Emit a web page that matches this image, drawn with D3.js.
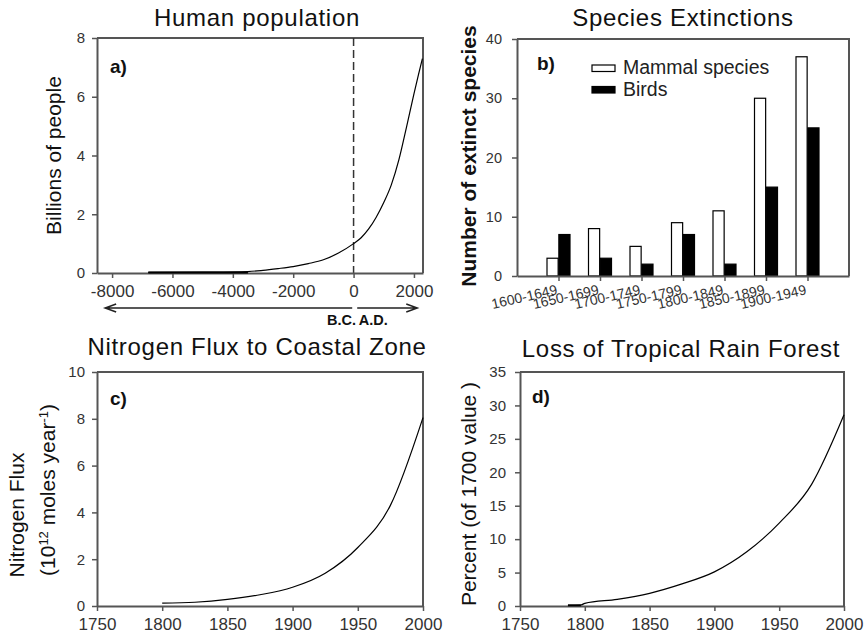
<!DOCTYPE html>
<html>
<head>
<meta charset="utf-8">
<script src="https://cdn.jsdelivr.net/npm/d3@7"></script>
<style>
body { margin: 0; background: #fff; }
text { font-family: "Liberation Sans", Arial, sans-serif; fill: #111; }
.tick text { fill: #333; }
</style>
</head>
<body>
<script>
// a) human population (billions)
var popYears = [-6800, -5000, -3500, -3000, -2500, -2000, -1500, -1000, -500, 0, 250, 500, 750, 1000, 1250, 1500, 1750, 2000, 2150, 2280];
var popValues = [0.02, 0.03, 0.05, 0.09, 0.15, 0.22, 0.32, 0.45, 0.68, 1.0, 1.2, 1.5, 1.9, 2.4, 3.0, 3.85, 4.95, 6.1, 6.75, 7.3];
var popXTicks = [-8000, -6000, -4000, -2000, 0, 2000];
var popYTicks = [0, 2, 4, 6, 8];

// b) species extinctions per period
var periods = ["1600-1649", "1650-1699", "1700-1749", "1750-1799", "1800-1849", "1850-1899", "1900-1949"];
var mammals = [3, 8, 5, 9, 11, 30, 37];
var birds = [7, 3, 2, 7, 2, 15, 25];
var extYTicks = [0, 10, 20, 30, 40];

// c) nitrogen flux
var nYears = [1800, 1825, 1850, 1875, 1900, 1925, 1950, 1975, 2000];
var nValues = [0.12, 0.16, 0.28, 0.48, 0.8, 1.4, 2.5, 4.3, 8.05];
var nYTicks = [0, 2, 4, 6, 8, 10];

// d) tropical rain forest loss
var fYears = [1787, 1797, 1800, 1825, 1850, 1875, 1900, 1925, 1950, 1975, 2000];
var fValues = [0.1, 0.15, 0.4, 1.0, 1.9, 3.3, 5.1, 8.1, 12.4, 18.2, 28.6];
var fYTicks = [0, 5, 10, 15, 20, 25, 30, 35];
var yearTicks = [1750, 1800, 1850, 1900, 1950, 2000];

var svg = d3.select("body").append("svg")
    .attr("width", 868)
    .attr("height", 638);

var frameColor = "#555";

function styleAxis(sel, fontSize) {
    sel.select(".domain").attr("stroke", frameColor).attr("stroke-width", 2);
    sel.selectAll(".tick line").attr("stroke", frameColor).attr("stroke-width", 1.5);
    sel.selectAll(".tick text").style("font-size", fontSize + "px")
        .style("font-family", "'Liberation Sans', Arial, sans-serif");
}

function panel(left, top, w, h) {
    var g = svg.append("g").attr("transform", "translate(" + left + "," + top + ")");
    // top and right sides of the box
    g.append("path")
        .attr("d", "M0,0H" + w + "V" + h)
        .attr("fill", "none")
        .attr("stroke", frameColor)
        .attr("stroke-width", 2);
    return g;
}

function addTitle(g, x, y, txt) {
    g.append("text")
        .attr("x", x).attr("y", y)
        .attr("text-anchor", "middle")
        .style("font-size", "24px")
        .style("letter-spacing", "0.7px")
        .text(txt);
}

function addTag(g, x, y, txt) {
    g.append("text")
        .attr("x", x).attr("y", y)
        .style("font-size", "19px")
        .style("font-weight", "bold")
        .text(txt);
}

function addYLabel(g, x, y, txt, size, bold) {
    return g.append("text")
        .attr("transform", "translate(" + x + "," + y + ") rotate(-90)")
        .attr("text-anchor", "middle")
        .style("font-size", size + "px")
        .style("font-weight", bold ? "bold" : "normal")
        .text(txt);
}

//---------------- a) Human population
var wA = 326, hA = 235;
var gA = panel(97, 38, wA, hA);
var xA = d3.scaleLinear().domain([-8500, 2300]).range([0, wA]);
var yA = d3.scaleLinear().domain([0, 8]).range([hA, 0]);

gA.append("line")
    .attr("x1", xA(0)).attr("x2", xA(0))
    .attr("y1", 0).attr("y2", hA)
    .attr("stroke", "#333")
    .attr("stroke-width", 1.5)
    .attr("stroke-dasharray", "8,4");

gA.append("g")
    .attr("transform", "translate(0," + hA + ")")
    .call(d3.axisBottom(xA).tickValues(popXTicks).tickSize(5).tickSizeOuter(0).tickPadding(7).tickFormat(d => String(d)))
    .call(s => styleAxis(s, 17));
gA.append("g")
    .call(d3.axisLeft(yA).tickValues(popYTicks).tickSize(5).tickSizeOuter(0).tickPadding(7))
    .call(s => styleAxis(s, 15));

var popLine = d3.line()
    .x((d, i) => xA(popYears[i]))
    .y(d => yA(d))
    .curve(d3.curveMonotoneX);
gA.append("path")
    .datum(popValues)
    .attr("d", popLine)
    .attr("fill", "none")
    .attr("stroke", "#000")
    .attr("stroke-width", 1.2);
// thicker flat stretch at the start
gA.append("line")
    .attr("x1", xA(popYears[0])).attr("x2", xA(popYears[2]))
    .attr("y1", yA(0.02)).attr("y2", yA(0.02))
    .attr("stroke", "#000").attr("stroke-width", 2);

// B.C. / A.D. arrows
var arrowY = hA + 35;
function arrow(x1, x2) {
    var dir = x2 > x1 ? 1 : -1;
    gA.append("path")
        .attr("d", "M" + x1 + "," + arrowY + "H" + x2 +
            "M" + (x2 - dir * 11) + "," + (arrowY - 4) + "L" + x2 + "," + arrowY + "L" + (x2 - dir * 11) + "," + (arrowY + 4))
        .attr("fill", "none")
        .attr("stroke", "#222")
        .attr("stroke-width", 1.5);
}
arrow(xA(-45), xA(-8230));
arrow(xA(120), xA(2110));
gA.append("text")
    .attr("x", xA(80)).attr("y", hA + 52)
    .attr("text-anchor", "end")
    .style("font-size", "14.5px").style("font-weight", "bold")
    .text("B.C.");
gA.append("text")
    .attr("x", xA(170)).attr("y", hA + 52)
    .style("font-size", "14.5px").style("font-weight", "bold")
    .text("A.D.");

addTitle(gA, 160, -12, "Human population");
addTag(gA, 13, 35, "a)");
addYLabel(gA, -36, hA / 2, "Billions of people", 21, false);

//---------------- b) Species extinctions
var wB = 332, hB = 237;
var gB = panel(517, 39, wB, hB);
var xB = d3.scaleLinear().domain([0, 8]).range([0, wB]);
var yB = d3.scaleLinear().domain([0, 40]).range([hB, 0]);
var sub = d3.scaleBand().domain(["Mammal species", "Birds"]).range([-11.5, 11.5]).paddingInner(0.06);
var fills = {"Mammal species": "#fff", "Birds": "#000"};

var rows = periods.map((p, i) => ({pos: i + 1, values: [
    {key: "Mammal species", value: mammals[i]},
    {key: "Birds", value: birds[i]}
]}));

gB.selectAll(".grp")
    .data(rows)
    .enter()
    .append("g")
    .attr("class", "grp")
    .attr("transform", d => "translate(" + xB(d.pos) + ",0)")
    .selectAll("rect")
    .data(d => d.values)
    .enter()
    .append("rect")
    .attr("x", d => sub(d.key))
    .attr("width", sub.bandwidth())
    .attr("y", d => yB(d.value))
    .attr("height", d => hB - yB(d.value))
    .attr("fill", d => fills[d.key])
    .attr("stroke", "#000")
    .attr("stroke-width", 1.2);

gB.append("g")
    .attr("transform", "translate(0," + hB + ")")
    .call(d3.axisBottom(xB).tickValues(d3.range(1, periods.length + 1)).tickSize(5).tickSizeOuter(0)
        .tickFormat(i => periods[i - 1]))
    .call(s => styleAxis(s, 14))
    .call(s => s.selectAll(".tick text")
        .attr("y", null).attr("dy", null)
        .attr("text-anchor", "end")
        .attr("transform", "translate(-1,18) rotate(-13)"));
gB.append("g")
    .call(d3.axisLeft(yB).tickValues(extYTicks).tickSize(5).tickSizeOuter(0).tickPadding(10))
    .call(s => styleAxis(s, 14.5));

var legend = gB.append("g").attr("transform", "translate(75,26)");
legend.selectAll("rect")
    .data(sub.domain())
    .enter()
    .append("rect")
    .attr("x", 0)
    .attr("y", (d, i) => i * 21.5)
    .attr("width", 23)
    .attr("height", 6.5)
    .attr("fill", d => fills[d])
    .attr("stroke", "#000")
    .attr("stroke-width", 1.2);
legend.selectAll("text")
    .data(sub.domain())
    .enter()
    .append("text")
    .attr("x", 31)
    .attr("y", (d, i) => i * 21.5 + 9)
    .style("font-size", "19.5px")
    .style("fill", "#222")
    .text(d => d);

addTitle(gB, 166, -13, "Species Extinctions");
addTag(gB, 20, 31, "b)");
addYLabel(gB, -41, 117, "Number of extinct species", 21, true);

//---------------- c) Nitrogen flux
var wC = 326, hC = 234;
var gC = panel(97, 372, wC, hC);
var xC = d3.scaleLinear().domain([1750, 2000]).range([0, wC]);
var yC = d3.scaleLinear().domain([0, 10]).range([hC, 0]);

gC.append("g")
    .attr("transform", "translate(0," + hC + ")")
    .call(d3.axisBottom(xC).tickValues(yearTicks).tickSize(5).tickSizeOuter(0).tickPadding(7).tickFormat(d => String(d)))
    .call(s => styleAxis(s, 17));
gC.append("g")
    .call(d3.axisLeft(yC).tickValues(nYTicks).tickSize(5).tickSizeOuter(0).tickPadding(7))
    .call(s => styleAxis(s, 15));

gC.append("path")
    .datum(nValues)
    .attr("d", d3.line().x((d, i) => xC(nYears[i])).y(d => yC(d)).curve(d3.curveMonotoneX))
    .attr("fill", "none")
    .attr("stroke", "#000")
    .attr("stroke-width", 1.2);

addTitle(gC, 160, -17, "Nitrogen Flux to Coastal Zone");
addTag(gC, 13, 33, "c)");
addYLabel(gC, -73, 143, "Nitrogen Flux", 21, false);
var nLab = gC.append("text")
    .attr("transform", "translate(-42," + 118 + ") rotate(-90)")
    .attr("text-anchor", "middle")
    .style("font-size", "21px");
nLab.append("tspan").text("(10");
nLab.append("tspan").attr("dy", -7).style("font-size", "13px").text("12");
nLab.append("tspan").attr("dy", 7).text(" moles year");
nLab.append("tspan").attr("dy", -7).style("font-size", "13px").text("-1");
nLab.append("tspan").attr("dy", 7).text(")");

//---------------- d) Tropical rain forest
var wD = 324, hD = 234;
var gD = panel(520, 372, wD, hD);
var xD = d3.scaleLinear().domain([1750, 2000]).range([0, wD]);
var yD = d3.scaleLinear().domain([0, 35]).range([hD, 0]);

gD.append("g")
    .attr("transform", "translate(0," + hD + ")")
    .call(d3.axisBottom(xD).tickValues(yearTicks).tickSize(5).tickSizeOuter(0).tickPadding(7).tickFormat(d => String(d)))
    .call(s => styleAxis(s, 17));
gD.append("g")
    .call(d3.axisLeft(yD).tickValues(fYTicks).tickSize(5).tickSizeOuter(0).tickPadding(9))
    .call(s => styleAxis(s, 15));

gD.append("path")
    .datum(fValues)
    .attr("d", d3.line().x((d, i) => xD(fYears[i])).y(d => yD(d)).curve(d3.curveMonotoneX))
    .attr("fill", "none")
    .attr("stroke", "#000")
    .attr("stroke-width", 1.2);
gD.append("line")
    .attr("x1", xD(fYears[0])).attr("x2", xD(fYears[1]))
    .attr("y1", yD(0.1)).attr("y2", yD(0.1))
    .attr("stroke", "#000").attr("stroke-width", 2);

addTitle(gD, 161, -15, "Loss of Tropical Rain Forest");
addTag(gD, 12, 31, "d)");
addYLabel(gD, -44, 122, "Percent (of 1700 value )", 21, false);
</script>
</body>
</html>
